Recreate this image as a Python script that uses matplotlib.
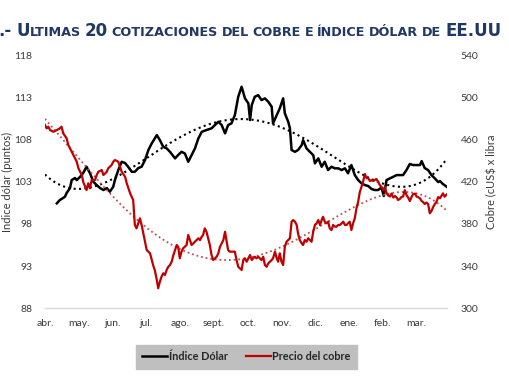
import numpy as np
import matplotlib
matplotlib.use("Agg")
import matplotlib.pyplot as plt
from matplotlib.transforms import IdentityTransform

# ---------------- data ----------------
months = ["abr.", "may.", "jun.", "jul.", "ago.", "sept.", "oct.", "nov.", "dic.", "ene.", "feb.", "mar."]

# x in months since start of April
dollar_x = [0.35, 0.44, 0.59, 0.64, 0.74, 0.79, 0.89, 0.94, 1.04, 1.13, 1.23, 1.33, 1.43, 1.53, 1.63, 1.73,
            1.83, 1.92, 2.02, 2.07, 2.17, 2.27, 2.37, 2.46, 2.57, 2.66, 2.76, 2.86, 2.96, 3.06, 3.16, 3.31,
            3.40, 3.50, 3.60, 3.70, 3.85, 3.94, 4.04, 4.14, 4.24, 4.34, 4.44, 4.54, 4.64, 4.78, 4.93, 5.03,
            5.13, 5.23, 5.33, 5.42, 5.52, 5.62, 5.72, 5.82, 5.92, 6.02, 6.07, 6.12, 6.21, 6.31, 6.41, 6.51,
            6.61, 6.71, 6.75, 6.86, 6.95, 7.05, 7.10, 7.20, 7.25, 7.30, 7.40, 7.49, 7.60, 7.64, 7.74, 7.84,
            7.94, 7.99, 8.09, 8.19, 8.28, 8.38, 8.48, 8.58, 8.68, 8.78, 8.88, 8.97, 9.07, 9.17, 9.27, 9.37,
            9.47, 9.57, 9.67, 9.76, 9.86, 9.96, 10.03, 10.11, 10.21, 10.31, 10.41, 10.50, 10.60, 10.70, 10.80,
            10.90, 11.00, 11.10, 11.15, 11.24, 11.34, 11.44, 11.54, 11.64, 11.69, 11.78, 11.89]
dollar_index = [100.44, 100.83, 101.22, 101.66, 102.25, 103.20, 103.44, 103.20, 103.59, 104.03, 104.78, 104.03,
                103.00, 102.61, 102.25, 102.02, 102.25, 101.82, 102.41, 103.20, 104.39, 105.37, 105.22, 104.78,
                104.18, 104.18, 104.62, 104.78, 105.57, 106.76, 107.55, 108.53, 107.94, 107.15, 106.96, 106.55,
                105.77, 106.16, 106.55, 106.36, 105.37, 106.16, 106.96, 108.14, 108.92, 109.13, 109.33, 109.72,
                110.11, 109.72, 108.73, 109.72, 109.92, 110.90, 113.07, 114.26, 112.88, 112.29, 110.31, 112.09,
                113.07, 113.27, 112.68, 112.88, 112.48, 111.89, 109.92, 110.90, 111.70, 112.88, 111.10, 110.11,
                109.33, 106.76, 106.55, 106.76, 107.35, 107.94, 106.96, 106.55, 106.16, 105.18, 105.77, 104.78,
                105.37, 104.39, 104.78, 104.59, 104.59, 104.39, 104.59, 104.00, 104.98, 103.80, 103.20, 102.81,
                102.61, 102.49, 102.13, 102.02, 102.02, 102.31, 101.31, 103.20, 103.40, 103.59, 103.79, 103.79,
                103.79, 104.39, 105.10, 104.98, 104.98, 104.98, 105.45, 104.62, 104.39, 103.79, 103.40, 102.96,
                103.08, 102.73, 102.41]

copper_x = [0.00, 0.05, 0.10, 0.15, 0.25, 0.35, 0.44, 0.49, 0.54, 0.64, 0.69, 0.79, 0.84, 0.94, 0.99, 1.09,
            1.13, 1.23, 1.28, 1.33, 1.38, 1.48, 1.53, 1.58, 1.68, 1.73, 1.83, 1.87, 1.97, 2.02, 2.07, 2.17,
            2.22, 2.27, 2.37, 2.42, 2.52, 2.61, 2.66, 2.71, 2.76, 2.81, 2.86, 2.91, 2.96, 3.01, 3.06, 3.11,
            3.16, 3.20, 3.25, 3.31, 3.35, 3.40, 3.45, 3.50, 3.55, 3.60, 3.65, 3.70, 3.75, 3.80, 3.85, 3.90,
            3.94, 3.99, 4.04, 4.09, 4.14, 4.19, 4.24, 4.29, 4.34, 4.39, 4.44, 4.49, 4.54, 4.59, 4.64, 4.68,
            4.73, 4.78, 4.83, 4.88, 4.93, 4.98, 5.03, 5.08, 5.13, 5.18, 5.23, 5.28, 5.33, 5.38, 5.42, 5.47,
            5.52, 5.57, 5.62, 5.67, 5.72, 5.77, 5.82, 5.87, 5.92, 5.97, 6.02, 6.07, 6.12, 6.16, 6.21, 6.26,
            6.31, 6.36, 6.41, 6.46, 6.51, 6.56, 6.61, 6.66, 6.71, 6.75, 6.81, 6.86, 6.90, 6.95, 7.00, 7.05,
            7.10, 7.15, 7.20, 7.25, 7.30, 7.35, 7.40, 7.45, 7.49, 7.54, 7.60, 7.64, 7.69, 7.74, 7.79, 7.84,
            7.89, 7.94, 7.99, 8.04, 8.09, 8.14, 8.19, 8.23, 8.28, 8.33, 8.38, 8.43, 8.48, 8.53, 8.58, 8.63,
            8.68, 8.73, 8.78, 8.83, 8.88, 8.93, 8.97, 9.02, 9.07, 9.12, 9.17, 9.22, 9.27, 9.32, 9.37, 9.42,
            9.47, 9.52, 9.57, 9.62, 9.67, 9.71, 9.81, 9.86, 9.91, 9.96, 10.01, 10.06, 10.11, 10.16, 10.21,
            10.26, 10.31, 10.36, 10.41, 10.45, 10.50, 10.55, 10.60, 10.65, 10.70, 10.75, 10.80, 10.85, 10.90,
            10.95, 11.00, 11.04, 11.10, 11.15, 11.19, 11.24, 11.29, 11.34, 11.39, 11.44, 11.49, 11.54, 11.59,
            11.64, 11.69, 11.78, 11.83, 11.89]
copper_price = [473.8, 470.6, 472.2, 469.0, 467.4, 469.0, 470.6, 472.2, 465.9, 461.2, 454.8, 448.5, 445.3,
                439.0, 432.7, 426.4, 420.0, 412.1, 418.5, 413.8, 421.6, 421.6, 426.4, 429.5, 431.1, 426.4,
                429.5, 432.7, 435.8, 439.0, 440.6, 439.0, 434.2, 429.5, 424.8, 418.5, 409.0, 402.7, 379.0,
                375.8, 380.6, 385.3, 379.0, 371.1, 363.1, 355.3, 353.7, 352.1, 345.8, 341.0, 336.3, 326.8,
                319.0, 325.2, 330.0, 333.2, 331.6, 336.3, 339.4, 341.0, 344.2, 350.5, 355.3, 360.0, 358.4,
                347.4, 353.7, 356.9, 358.4, 360.0, 369.5, 364.7, 360.0, 361.6, 363.1, 364.7, 366.4, 364.7,
                367.9, 369.5, 375.8, 372.6, 366.4, 360.0, 350.5, 345.8, 347.4, 348.9, 352.1, 358.4, 361.6,
                364.7, 372.6, 363.1, 355.3, 353.7, 353.7, 353.7, 353.7, 345.8, 339.4, 337.9, 336.3, 345.8,
                347.4, 344.2, 347.4, 350.5, 345.8, 347.4, 348.9, 347.4, 348.9, 347.4, 345.8, 348.9, 341.0,
                339.4, 342.7, 344.2, 345.8, 347.4, 353.7, 347.4, 344.2, 352.1, 344.2, 341.0, 358.4, 363.1,
                364.7, 366.4, 382.1, 383.7, 382.1, 379.0, 371.1, 364.7, 361.6, 360.0, 364.7, 363.1, 366.4,
                364.7, 363.1, 372.6, 379.0, 380.6, 383.7, 379.0, 383.7, 386.8, 382.1, 380.6, 382.1, 375.8,
                374.2, 379.0, 377.4, 377.4, 379.0, 379.0, 380.6, 382.1, 379.0, 379.0, 380.6, 382.1, 374.2,
                380.6, 385.3, 394.8, 401.1, 410.5, 415.3, 420.7, 427.3, 423.5, 423.2, 420.7, 421.6, 420.7,
                422.6, 420.0, 416.9, 415.0, 412.1, 415.0, 409.3, 406.9, 406.0, 408.8, 405.0, 406.5, 405.0,
                402.7, 403.6, 405.5, 406.0, 412.1, 407.4, 405.0, 401.7, 405.5, 408.4, 408.8, 406.0, 405.5,
                404.3, 401.7, 400.8, 398.9, 400.3, 398.9, 390.1, 392.2, 396.0, 398.9, 401.1, 405.5, 404.3,
                409.0, 405.8, 407.9]

left_ticks = [88, 93, 98, 103, 108, 113, 118]
right_ticks = [300, 340, 380, 420, 460, 500, 540]
trend_degree = 4

# ---------------- figure ----------------
W, H = 510, 382
fig = plt.figure(figsize=(W / 100, H / 100), dpi=100)
fig.patch.set_facecolor("white")

ax = fig.add_axes([45 / W, 1 - 308.3 / H, 402 / W, (308.3 - 55.2) / H])
ax2 = ax.twinx()

tick_font = "Lato"
tick_color = "#3a3a3a"

# dollar index (left axis)
ln1, = ax.plot(dollar_x, dollar_index, color="black", lw=1.8, solid_joinstyle="round", zorder=3)
xx = np.linspace(0, 11.89, 300)
pd_ = np.polyfit(dollar_x, dollar_index, trend_degree)
ax.plot(xx, np.polyval(pd_, xx), color="black", lw=1.5, linestyle=(0, (1, 1.6)), zorder=2)

# copper (right axis)
ln2, = ax2.plot(copper_x, copper_price, color="#C00000", lw=1.6, solid_joinstyle="round", zorder=3)
pc_ = np.polyfit(copper_x, copper_price, trend_degree)
ax2.plot(xx, np.polyval(pc_, xx), color="#C0504D", lw=1.3, linestyle=(0, (1, 1.6)), zorder=2)

ax.set_xlim(0, 11.9)
ax.set_ylim(88, 118)
ax2.set_ylim(300, 540)
ax.set_xticks(range(len(months)))
ax.set_xticklabels(months)
ax.set_yticks(left_ticks)
ax2.set_yticks(right_ticks)

for a in (ax, ax2):
    for s in a.spines.values():
        s.set_visible(False)
    a.tick_params(length=0, labelsize=7.5, colors=tick_color)
    for lab in a.get_xticklabels() + a.get_yticklabels():
        lab.set_fontfamily(tick_font)
ax.spines["bottom"].set_visible(True)
ax.spines["bottom"].set_color("#D9D9D9")
ax.spines["bottom"].set_linewidth(1.0)
ax.tick_params(axis="x", pad=8)
ax.tick_params(axis="y", pad=9)
ax2.tick_params(axis="y", pad=10)

ax.set_ylabel("Indice dólar (puntos)", fontsize=8, color=tick_color, family=tick_font)
ax.yaxis.set_label_coords(-32 / 402, 0.5)
ax2.set_ylabel("Cobre (cUS$ x libra", fontsize=8, color=tick_color, family=tick_font, labelpad=5)

# legend
leg = fig.legend([ln1, ln2], ["Índice Dólar", "Precio del cobre"], loc="center",
                 bbox_to_anchor=(246.5 / W, 1 - 356.5 / H), ncol=2, frameon=True,
                 facecolor="#BFBFBF", edgecolor="#BFBFBF", fancybox=False, framealpha=1,
                 prop={"family": tick_font, "weight": "bold", "size": 7.8},
                 handlelength=2.3, handletextpad=0.15, columnspacing=1.7, borderpad=0.6)
for t in leg.get_texts():
    t.set_color("#262626")

# title in small caps, spread to the reference width
title_color = "#1F3864"
big, small = 12.0, 9.2
pieces = [("U", big, 0), ("LTIMAS", small, 1), ("20", big, 1),
          ("COTIZACIONES", small, 1), ("DEL", small, 1), ("COBRE", small, 1), ("E", small, 1),
          ("ÍNDICE", small, 1), ("DÓLAR", small, 1), ("DE", small, 1), ("EE.UU", big, 0)]
renderer = fig.canvas.get_renderer()
ybase = H - 36.0
x_start, x_end = 16.0, 501.0
fig.text(12, ybase, ".-", fontsize=big, fontweight="bold", color=title_color,
         family="DejaVu Sans", ha="right", va="baseline", transform=IdentityTransform())
texts = []
for txt, sz, gap_after in pieces:
    t = fig.text(0, ybase, txt, fontsize=sz, fontweight="bold", color=title_color,
                 family="DejaVu Sans", ha="left", va="baseline", transform=IdentityTransform())
    texts.append((t, gap_after))
widths = [t.get_window_extent(renderer).width for t, _ in texts]
n_gaps = sum(g for _, g in texts)
gap = max((x_end - x_start - sum(widths)) / n_gaps, 2.0)
x = x_start
for (t, g), w in zip(texts, widths):
    t.set_x(x)
    x += w + (gap if g else 0.3)

fig.savefig("out.png", dpi=100)
